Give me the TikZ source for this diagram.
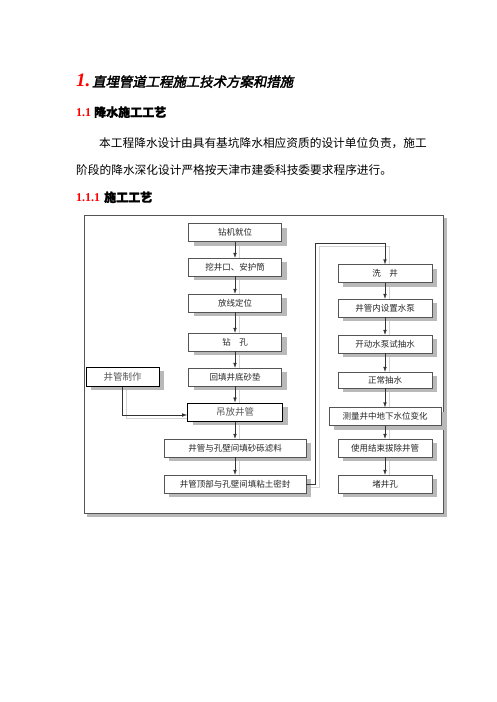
\documentclass[tikz,border=0pt]{standalone}
\usepackage{fontspec}
\usepackage{tikz}
\usetikzlibrary{arrows.meta,shadows,backgrounds}
\setmainfont{Liberation Serif}
\newfontfamily\cjk{Noto Sans CJK SC}
\newfontfamily\cjkbold[FakeBold=1.5]{Noto Sans CJK SC}
\newfontfamily\cjkhead[FakeSlant=0.2,FakeBold=2.5]{Noto Sans CJK SC}
\definecolor{headRed}{RGB}{255,0,0}
\definecolor{boxBorder}{RGB}{85,85,85}
\definecolor{boxShadow}{RGB}{185,185,185}
\definecolor{lineShadow}{RGB}{212,212,212}
\newcommand{\frameshadow}{(87,218) rectangle (446.5,516.5)}
\newcommand{\frameouter}{(84,215) rectangle (443,513)}
\tikzset{
	stepbox/.style={draw=boxBorder, fill=white, minimum height=18pt, inner sep=0pt, text=black!85,
		font=\cjk\fontsize{8.5}{10}\selectfont,
		drop shadow={shadow xshift=5pt, shadow yshift=-4pt, fill=boxShadow, opacity=1}},
	thickbox/.style={stepbox, draw=black, line width=1pt, text=black!65, font=\cjk\fontsize{9.5}{11}\selectfont},
	flow/.style={draw=black!80, -{Latex[length=5pt,width=3.5pt]}},
	flowshadow/.style={draw=lineShadow, line width=1pt},
	headtext/.style={anchor=base west, inner sep=0pt}
}

\begin{document}
\begin{tikzpicture}[x=1pt, y=-1pt]
	\useasboundingbox (0,0) rectangle (496,702);

	% headings and text
	\node[headtext, text=headRed, font=\fontsize{19}{19}\selectfont\bfseries\itshape] (num) at (76,86) {1.};
	\node[headtext, font=\cjkhead\fontsize{13.4}{14}\selectfont] (title) at (92,86.7) {直埋管道工程施工技术方案和措施};
	\node[headtext, font=\fontsize{12}{12}\selectfont\bfseries] (sec) at (76,116.7) {\textcolor{headRed}{1.1}\hspace{3pt}{\cjkbold 降水施工工艺}};
	\node[headtext, font=\cjk\fontsize{11.7}{12}\selectfont] (lineA) at (99,147.2) {本工程降水设计由具有基坑降水相应资质的设计单位负责，施工};
	\node[headtext, font=\cjk\fontsize{11.7}{12}\selectfont] (lineB) at (76,174.2) {阶段的降水深化设计严格按天津市建委科技委要求程序进行。};
	\node[headtext, font=\fontsize{12}{12}\selectfont\bfseries] (subsec) at (76,201.8) {\textcolor{headRed}{1.1.1}\hspace{4pt}{\cjkbold 施工工艺}};

	% left column
	\node[stepbox, minimum width=93pt] (zuanji) at (235,232.5) {钻机就位};
	\node[stepbox, minimum width=93pt] (wajing) at (235,267) {挖井口、安护筒};
	\node[stepbox, minimum width=93pt] (fangxian) at (235,303) {放线定位};
	\node[stepbox, minimum width=93pt] (zuankong) at (235,342) {钻\quad 孔};
	\node[stepbox, minimum width=93pt] (huitian) at (235,377) {回填井底砂垫};
	\node[thickbox, minimum width=95pt] (diaofang) at (235,412) {吊放井管};
	\node[stepbox, minimum width=142pt] (tiansha) at (235,448) {井管与孔壁间填砂砾滤料};
	\node[stepbox, minimum width=142pt] (tianzhan) at (235,484) {井管顶部与孔壁间填粘土密封};
	\node[thickbox, minimum width=73pt, minimum height=19pt] (zhizuo) at (122.5,376.5) {井管制作};

	% right column
	\node[stepbox, minimum width=94pt] (xijing) at (385,273.5) {洗\quad 井};
	\node[stepbox, minimum width=94pt] (shezhi) at (385,308) {井管内设置水泵};
	\node[stepbox, minimum width=94pt] (shichou) at (385,344) {开动水泵试抽水};
	\node[stepbox, minimum width=94pt, minimum height=16pt] (choushui) at (385,380) {正常抽水};
	\node[stepbox, minimum width=112pt] (celiang) at (385,416.5) {测量井中地下水位变化};
	\node[stepbox, minimum width=94pt] (bachu) at (385,448) {使用结束拔除井管};
	\node[stepbox, minimum width=94pt] (dujing) at (385,484) {堵井孔};

	\coordinate (loopTop) at (315,243);

	\foreach \a/\b in {zuanji/wajing, wajing/fangxian, fangxian/zuankong, zuankong/huitian,
		huitian/diaofang, diaofang/tiansha, tiansha/tianzhan,
		xijing/shezhi, shezhi/shichou, shichou/choushui, choushui/celiang, celiang/bachu, bachu/dujing}
		\draw[flow] (\a) -- (\b);
	\draw[flow] (tianzhan.east) -| (loopTop) -| (xijing.north);
	\draw[flow] (zhizuo.south) |- ([yshift=-3pt]diaofang.west);

	% frame and line shadows behind everything
	\begin{scope}[on background layer]
		\fill[boxShadow] \frameshadow;
		\draw[boxBorder, fill=white] \frameouter;
		\begin{scope}[transform canvas={shift={(4pt,-3pt)}}]
			\foreach \a/\b in {zuanji/wajing, wajing/fangxian, fangxian/zuankong, zuankong/huitian,
				huitian/diaofang, diaofang/tiansha, tiansha/tianzhan,
				xijing/shezhi, shezhi/shichou, shichou/choushui, choushui/celiang, celiang/bachu, bachu/dujing}
				\draw[flowshadow] (\a) -- (\b);
			\draw[flowshadow] (tianzhan.east) -| (loopTop) -| (xijing.north);
			\draw[flowshadow] (zhizuo.south) |- ([yshift=-3pt]diaofang.west);
		\end{scope}
	\end{scope}
\end{tikzpicture}
\end{document}
